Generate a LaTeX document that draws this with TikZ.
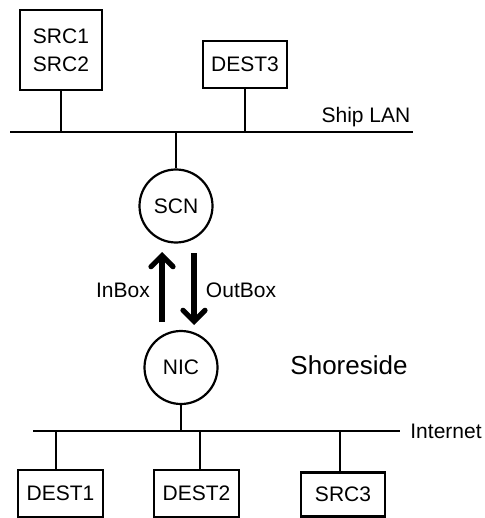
\documentclass[tikz,border=0pt]{standalone}
\usepackage{fontspec}
\setmainfont{Liberation Sans}
\usetikzlibrary{arrows.meta}
\begin{document}
\begin{tikzpicture}[x=1pt,y=-1pt,
  txt/.style={font=\fontsize{21}{28}\selectfont},
  box/.style={draw,line width=2.2pt,minimum height=47pt,inner sep=0pt,txt,align=center},
  host/.style={draw,circle,line width=2.2pt,minimum size=73pt,inner sep=0pt,txt},
  bus/.style={line width=2.6pt},
  stem/.style={line width=2.4pt},
  bigarrow/.style={line width=5.2pt,-{Straight Barb[length=11pt,width=22pt,line cap=round]}}
]
\useasboundingbox (0,0) rectangle (484,518);
% ship side
\node[box,minimum width=82pt,minimum height=80pt] (src) at (61,50) {SRC1\\SRC2};
\node[box,minimum width=84pt] (dest3) at (245,64.5) {DEST3};
\coordinate (lanL) at (10,132);
\coordinate (lanR) at (413,132);
\draw[bus] (lanL) -- (lanR);
\node[txt] (shiplan) at (366,117) {Ship LAN};
\node[host] (scn) at (176,206) {SCN};
\draw[stem] (src.south) -- (src.south |- lanL);
\draw[stem] (dest3.south) -- (dest3.south |- lanL);
\draw[stem] (scn.north) -- (scn.north |- lanL);
% transfer arrows
\coordinate (inA) at (162,322);
\coordinate (inB) at (162,252);
\coordinate (outA) at (194,253);
\coordinate (outB) at (194,325);
\draw[bigarrow] (inA) -- (inB);
\draw[bigarrow] (outA) -- (outB);
\node[txt] (inbox) at (123,290) {InBox};
\node[txt] (outbox) at (241,290) {OutBox};
% shore side
\node[host] (nic) at (181,367.5) {NIC};
\node[font=\fontsize{26}{30}\selectfont] (shore) at (349,365) {Shoreside};
\coordinate (netL) at (33,431);
\coordinate (netR) at (400,431);
\draw[bus] (netL) -- (netR);
\node[txt] (internet) at (446,431) {Internet};
\draw[stem] (nic.south) -- (nic.south |- netL);
\node[box,minimum width=85pt] (dest1) at (60.5,493.5) {DEST1};
\node[box,minimum width=85pt] (dest2) at (196.5,493.5) {DEST2};
\node[box,minimum width=84pt,minimum height=44pt] (src3) at (343,494.5) {\raisebox{-4pt}{SRC3}};
\draw[stem] (dest1.north -| 56,0) -- (netL -| 56,0);
\draw[stem] (dest2.north -| 200,0) -- (netL -| 200,0);
\draw[stem] (src3.north -| 340,0) -- (netL -| 340,0);
\end{tikzpicture}
\end{document}
